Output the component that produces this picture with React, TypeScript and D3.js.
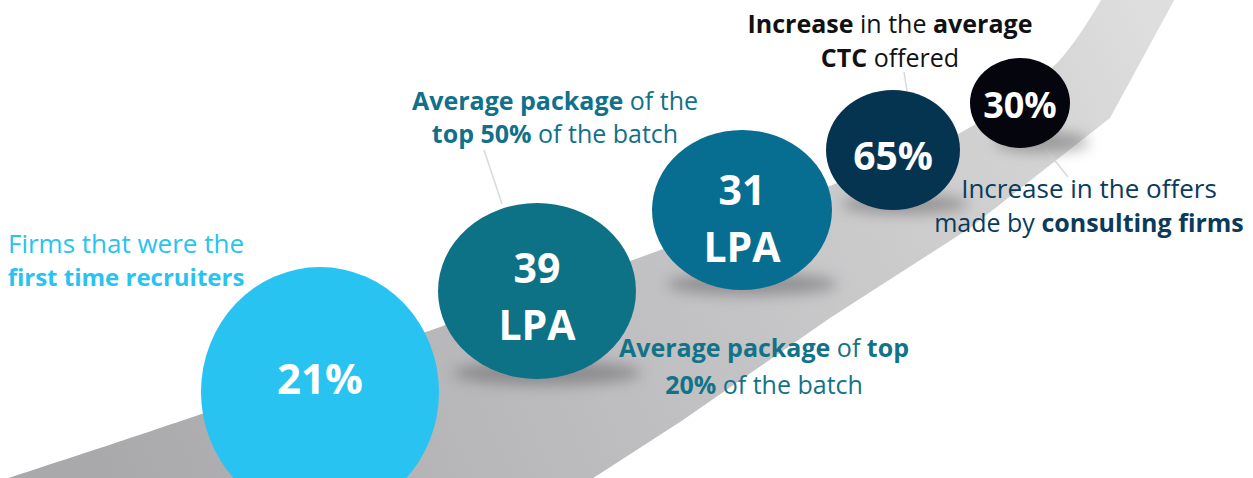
import React from 'react';
import * as d3 from 'd3';

// --- data ---
const metricValues = ['21%', '39', '31', '65%', '30%'];
const metricUnits = ['', 'LPA', 'LPA', '', ''];
const bubbleColors = ['#29c3f1', '#0e7286', '#086e91', '#04344f', '#05050d'];

type Seg = { t: string; b?: boolean };
const captionLines: Seg[][][] = [
  [[{ t: 'Firms that were the' }], [{ t: 'first time recruiters', b: true }]],
  [
    [{ t: 'Average package', b: true }, { t: ' of the' }],
    [{ t: 'top 50%', b: true }, { t: ' of the batch' }],
  ],
  [
    [{ t: 'Average package', b: true }, { t: ' of ' }, { t: 'top', b: true }],
    [{ t: '20%', b: true }, { t: ' of the batch' }],
  ],
  [
    [{ t: 'Increase', b: true }, { t: ' in the ' }, { t: 'average', b: true }],
    [{ t: 'CTC', b: true }, { t: ' offered' }],
  ],
  [[{ t: 'Increase in the offers' }], [{ t: 'made by ' }, { t: 'consulting firms', b: true }]],
];
const captionColors = ['#29c3f1', '#11708a', '#127388', '#111111', '#0b3a5a'];

// --- layout ---
const W = 1253;
const H = 478;
const bubbleLayout = [
  { cx: 320, cy: 392, rx: 119, ry: 125, fs: 42, base: [394], shadowDx: 8 },
  { cx: 537, cy: 291, rx: 99, ry: 88, fs: 41, base: [283, 340], shadowDx: 10 },
  { cx: 742, cy: 210, rx: 90, ry: 80, fs: 41, base: [205, 262], shadowDx: 10 },
  { cx: 893, cy: 150, rx: 67, ry: 60, fs: 39, base: [170], shadowDx: 12 },
  { cx: 1020, cy: 103, rx: 50, ry: 45, fs: 36, base: [118], shadowDx: 22 },
];
const captionLayout = [
  { x: 126, base: [253, 286], fs: [26, 24] },
  { x: 555, base: [110, 143], fs: [25, 25] },
  { x: 764, base: [357, 394], fs: [25, 25] },
  { x: 890, base: [33, 67], fs: [25, 25] },
  { x: 1089, base: [198, 232], fs: [26, 25] },
];
const leaders: [number, number][][] = [
  [[484, 150], [502, 204]],
  [[904, 72], [907, 91]],
  [[1044, 147], [1068, 177]],
];
const upperEdge: [number, number][] = [
  [-10, 484], [207, 412], [440, 327], [633, 260], [827, 187], [960, 133], [1057, 63], [1104, -5],
];
const lowerEdge: [number, number][] = [
  [1177, -5], [1110, 118], [970, 228], [830, 318], [683, 420], [584, 484],
];

const FONT = "'Open Sans', sans-serif";

export default function App() {
  const upper = d3.line().curve(d3.curveCatmullRom.alpha(0.5))(upperEdge) ?? '';
  const lower = d3.line()(lowerEdge) ?? '';
  const road = `${upper}${lower.replace(/^M/, 'L')}Z`;
  const color = d3.scaleOrdinal<number, string>().domain(d3.range(5)).range(bubbleColors);

  return (
    <svg
      width={W}
      height={H}
      style={{ position: 'fixed', left: 0, top: 0, background: '#fff' }}
      fontFamily={FONT}
    >
      <defs>
        <linearGradient id="road-fill" gradientUnits="userSpaceOnUse" x1={100} y1={478} x2={1140} y2={0}>
          <stop offset="0%" stopColor="#a9a9ab" />
          <stop offset="55%" stopColor="#c3c3c5" />
          <stop offset="85%" stopColor="#d2d2d2" />
          <stop offset="100%" stopColor="#dedede" />
        </linearGradient>
        <filter id="soft" x="-50%" y="-200%" width="200%" height="500%">
          <feGaussianBlur stdDeviation="7" />
        </filter>
      </defs>

      <path d={road} fill="url(#road-fill)" />

      {leaders.map((l, i) => (
        <path key={i} d={d3.line()(l) ?? ''} stroke="#d9d9d9" strokeWidth={1.5} fill="none" />
      ))}

      {/* shadows */}
      {bubbleLayout.map((b, i) => (
        <ellipse
          key={`s${i}`}
          cx={b.cx + b.shadowDx}
          cy={b.cy + b.ry - 6}
          rx={b.rx * 0.95}
          ry={Math.max(10, b.ry * 0.14)}
          fill="#5f5f62"
          opacity={0.5}
          filter="url(#soft)"
        />
      ))}

      {bubbleLayout.map((b, i) => (
        <g key={`b${i}`}>
          <ellipse cx={b.cx} cy={b.cy} rx={b.rx} ry={b.ry} fill={color(i)} />
          {[metricValues[i], metricUnits[i]]
            .filter((s) => s)
            .map((s, j) => (
              <text
                key={j}
                x={b.cx}
                y={b.base[j]}
                textAnchor="middle"
                fill="#fff"
                fontWeight={700}
                fontSize={b.fs}
              >
                {s}
              </text>
            ))}
        </g>
      ))}

      {captionLines.map((lines, i) =>
        lines.map((segs, j) => (
          <text
            key={`c${i}-${j}`}
            x={captionLayout[i].x}
            y={captionLayout[i].base[j]}
            textAnchor="middle"
            fontSize={captionLayout[i].fs[j]}
            fill={captionColors[i]}
          >
            {segs.map((s, k) => (
              <tspan key={k} fontWeight={s.b ? 700 : 400}>
                {s.t}
              </tspan>
            ))}
          </text>
        )),
      )}
    </svg>
  );
}
